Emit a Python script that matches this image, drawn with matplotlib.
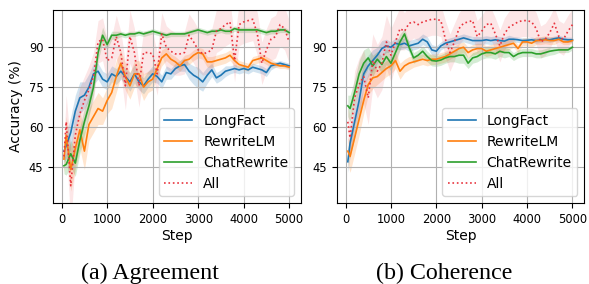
import numpy as np
import matplotlib.pyplot as plt

steps = [50] + list(range(100, 5001, 100))

# (a) Agreement
agree_longfact = [51, 53, 58, 66, 71, 72, 75, 80, 81, 78, 77, 80, 79, 81, 79, 77, 80, 77, 75.5, 78,
                  80, 79, 77, 80.5, 80, 82, 83, 83.5, 81, 79.5, 78.5, 77, 79.5, 81.5, 78.5, 79.5, 81, 81.5, 82, 81.5,
                  82, 81.5, 82.5, 82, 81.5, 80.5, 83, 83.5, 84, 83.5, 83]
agree_rewritelm = [48, 57, 44, 52, 59, 51, 61, 64, 67, 66, 70, 73, 79, 84, 79, 75.5, 80, 80, 75, 77,
                   78, 82, 86, 87.5, 85.5, 84.5, 83, 85, 85.5, 87, 88, 87.5, 84.5, 84.5, 85, 85.5, 86, 87, 85, 83.5,
                   83, 82.5, 85, 85.5, 86, 85, 84, 83.5, 83, 83, 82.5]
agree_chatrewrite = [45.5, 46, 50, 46.5, 55, 62, 68, 75, 88, 94.5, 91, 94.5, 94.5, 95, 94.5, 95, 95, 95.5, 95, 95.5,
                     96, 95.5, 95, 94.5, 95, 95, 95, 95, 95.5, 96, 96.5, 96, 95.5, 96, 96, 96.5, 96, 96, 97, 96.5,
                     96.5, 96.5, 96.5, 96.5, 96, 95.5, 96, 96, 96.5, 96.5, 95.5]
agree_all = [49, 62, 38, 57, 65, 70, 74, 79, 92, 93, 85, 86, 94, 88, 75.5, 94, 88, 75.5, 88, 88,
             87.5, 80, 95, 90, 88.5, 87.5, 87.5, 88, 94.5, 92, 89, 87.5, 88, 89, 96, 97, 98.5, 99.5, 85, 98.5,
             99.5, 100, 100.5, 95, 84, 89, 93, 94, 98.5, 97, 92]

agree_longfact_sd = [4, 5, 6, 6, 6, 5, 5, 4, 3, 3, 3, 3, 3, 3, 3, 3.5, 3.5, 3, 3, 3, 3,
                     2.5, 2.5, 2.5, 2, 2, 2, 2.5, 3, 3.5, 4, 3.5, 3, 2.5,
                     2, 2, 2, 1.5, 1.5, 1.5, 1.5, 1.5, 1.5, 1.5, 1.5, 1.5, 1.5, 1, 1, 1, 1]
agree_rewritelm_sd = [5, 7, 8, 8, 7, 7, 6, 6, 6, 5, 5, 6, 6, 5, 5, 5, 5, 5, 5, 4, 4,
                      3, 3, 2.5, 2, 2, 2, 2, 2, 2, 2, 2, 2, 2,
                      2, 2, 2, 2, 2, 1.5, 1.5, 1.5, 1.5, 1.5, 1.5, 1.5, 1.5, 1, 1, 1, 1]
agree_chatrewrite_sd = [3, 4, 5, 5, 5, 5, 4, 3, 3, 3, 2, 1.5, 1.5, 1, 1, 1, 1, 1, 1, 1, 1,
                        1, 1, 1, 1, 1, 1, 1, 1, 1, 1, 1, 1, 1,
                        1, 1, 1, 1, 1, 1, 1, 1, 1, 1, 1, 1, 1, 1, 1, 1, 1]
agree_all_sd = [6, 10, 14, 10, 10, 9, 9, 9, 8, 8, 8, 8, 8, 8, 9, 10, 9, 8, 8, 8, 8,
                8, 8, 8, 8, 8, 8, 8, 8, 8, 8, 8, 8, 8,
                8, 8, 8, 8, 8, 8, 8, 8, 8, 8, 8, 8, 8, 8, 8, 8, 8]

# (b) Coherence
coh_longfact = [47, 54, 62, 70, 80, 83, 85, 87, 89.5, 90.5, 90, 91.5, 91, 91.5, 90.5, 91, 91.5, 93, 92, 89,
                88.5, 90.5, 91.5, 92, 92.5, 93, 93.5, 93, 92.5, 92.5, 92.5, 92.8, 92.5, 92.8, 92.5, 92.3, 93, 93, 92.8, 92.5,
                92.6, 92.8, 92.5, 92.8, 93, 92.8, 93.2, 93.5, 93, 92.8, 92.8]
coh_rewritelm = [51, 49, 56, 63, 70, 76, 78.5, 79, 80.5, 82, 83, 85, 81, 83, 84, 84.5, 85, 85.5, 85, 85.5,
                 85.5, 86, 86.5, 87.5, 88.5, 89.5, 90, 88, 89, 89.5, 89.5, 88.5, 89, 89.5, 90, 90.5, 91, 91.5, 89.5, 92,
                 92, 91.5, 92.5, 92.5, 92.8, 92.5, 92.5, 93, 92, 92, 92.5]
coh_chatrewrite = [68, 67, 73, 80, 84, 86, 83, 85.5, 83.5, 86.5, 84, 88, 92, 95, 90, 86, 87, 88.5, 86.5, 85,
                   84.8, 85.2, 86, 86.5, 86.5, 87, 87, 84, 86, 86.5, 87.5, 88, 88, 87.5, 88.5, 88, 88, 86.5, 87.5, 88,
                   88, 88, 87.5, 87.5, 88, 88.5, 88.8, 89, 89, 89, 90]
coh_all = [62, 56, 71, 76, 79, 71, 85, 81, 84, 92, 87, 92, 97, 96, 99, 99.5, 98.5, 99.5, 100, 100.5,
           100.5, 100, 93, 88, 92, 97, 99, 99.5, 100, 94, 96, 98.5, 99, 95, 90.5, 95, 97.5, 98.5, 99.5, 100,
           100, 99.5, 97, 92, 93, 95.5, 99, 94, 93, 96, 98.5]

coh_longfact_sd = [4, 5, 6, 6, 5, 4, 4, 3, 3, 2.5, 2, 2, 2, 2, 2, 2, 2, 2, 2, 2, 2,
                   1.5, 1.5, 1.5, 1.5, 1.5, 1.5, 1.5, 1.5, 1.5, 1.5, 1.5, 1.5, 1.5,
                   1.5, 1.5, 1.5, 1, 1, 1, 1, 1, 1, 1, 1, 1, 1, 1, 1, 1, 1]
coh_rewritelm_sd = [5, 6, 6, 6, 5, 4, 4, 3, 3, 3, 3, 3, 3, 2.5, 2.5, 2, 2, 2, 2, 2, 2,
                    2, 2, 2, 2, 2, 2, 2, 2, 2, 2, 2, 2, 2,
                    2, 2, 2, 1.5, 1.5, 1.5, 1.5, 1.5, 1.5, 1.5, 1.5, 1.5, 1.5, 1, 1, 1, 1]
coh_chatrewrite_sd = [4, 5, 5, 5, 5, 4, 4, 3, 3, 3, 3, 3, 3, 2, 2, 2, 2, 2, 2, 2, 2,
                      2, 2, 2, 2, 3, 3, 2, 2, 2, 2, 2, 2, 2,
                      2, 2, 1.5, 1.5, 1.5, 1.5, 1.5, 1.5, 1.5, 1.5, 1.5, 1.5, 1.5, 1, 1, 1, 1]
coh_all_sd = [6, 8, 10, 10, 10, 10, 10, 10, 10, 10, 10, 9, 8, 7, 7, 6, 6, 6, 6, 6, 6,
              6, 7, 7, 7, 6, 6, 6, 6, 6, 6, 6, 6, 6,
              6, 6, 6, 6, 6, 6, 6, 6, 6, 6, 6, 6, 6, 6, 6, 6, 6]

labels = ['LongFact', 'RewriteLM', 'ChatRewrite', 'All']
colors = ['tab:blue', 'tab:orange', 'tab:green', '#e8333d']
styles = ['-', '-', '-', ':']


def draw(ax, series, spreads):
    x = np.array(steps)
    for y, sd, lab, c, ls in zip(series, spreads, labels, colors, styles):
        y = np.array(y)
        sd = np.array(sd)
        alpha = 0.12 if ls == ':' else 0.2
        ax.fill_between(x, y - sd, y + sd, color=c, alpha=alpha, linewidth=0)
        ax.plot(x, y, ls, color=c, label=lab, linewidth=1.2)
    ax.set_xlim(-190, 5260)
    ax.set_ylim(31.5, 104)
    ax.set_yticks([45, 60, 75, 90])
    ax.set_xticks([0, 1000, 2000, 3000, 4000, 5000])
    ax.tick_params(labelsize=8.3)
    ax.grid(True)
    ax.set_xlabel('Step', fontsize=10, labelpad=2)
    ax.legend(loc='lower right', fontsize=10)


def main():
    fig = plt.figure(figsize=(5.89, 2.84), dpi=100)
    ax1 = fig.add_axes([0.090, 0.285, 0.421, 0.68])
    ax2 = fig.add_axes([0.572, 0.285, 0.420, 0.68])

    draw(ax1, [agree_longfact, agree_rewritelm, agree_chatrewrite, agree_all],
         [agree_longfact_sd, agree_rewritelm_sd, agree_chatrewrite_sd, agree_all_sd])
    ax1.set_ylabel('Accuracy (%)', fontsize=10)
    draw(ax2, [coh_longfact, coh_rewritelm, coh_chatrewrite, coh_all],
         [coh_longfact_sd, coh_rewritelm_sd, coh_chatrewrite_sd, coh_all_sd])

    fig.text(150 / 589, 0.018, '(a) Agreement', ha='center', va='baseline',
             fontsize=17.3, family='Liberation Serif')
    fig.text(444 / 589, 0.018, '(b) Coherence', ha='center', va='baseline',
             fontsize=17.3, family='Liberation Serif')
    fig.savefig('out.png', dpi=100)


if __name__ == '__main__':
    main()
